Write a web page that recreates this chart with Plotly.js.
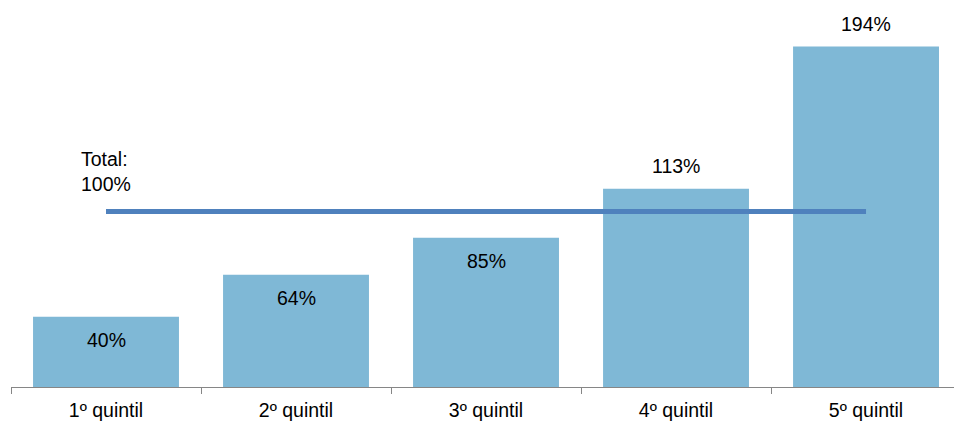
<!DOCTYPE html>
<html><head><meta charset="utf-8">
<script src="https://cdn.plot.ly/plotly-3.0.1.min.js"></script>
<style>html,body{margin:0;padding:0;background:#fff}#chart{width:954px;height:421px}</style>
</head><body><div id="chart"></div>
<script>
const categories = ["1º quintil", "2º quintil", "3º quintil", "4º quintil", "5º quintil"];
const values = [40, 64, 85, 113, 194];
const valueLabels = ["40%", "64%", "85%", "113%", "194%"];
const totalValue = 100;
const totalLabel = "Total:<br>100%";

const FONT = "Liberation Sans, Arial, sans-serif";

const bars = {
  type: "bar", x: categories, y: values, width: 0.768,
  marker: {color: "#7fb8d6"}, hoverinfo: "skip"
};
const totalLine = {
  type: "scatter", mode: "lines",
  x: [categories[0], categories[categories.length - 1]],
  y: [totalValue, totalValue],
  line: {color: "#4f81bd", width: 5}, hoverinfo: "skip"
};

const annotations = values.map((v, i) => ({
  x: categories[i], y: v, text: valueLabels[i], showarrow: false,
  yanchor: "middle", yshift: v > totalValue ? 23 : -23,
  font: {family: FONT, size: 19.5, color: "#000"}
}));
annotations.push({
  x: categories[0], y: totalValue, text: totalLabel, showarrow: false,
  xanchor: "left", yanchor: "middle", xshift: -27, yshift: 40, align: "left",
  font: {family: FONT, size: 19.5, color: "#000"}
});

const layout = {
  width: 954, height: 421,
  margin: {l: 11, r: 0, t: 0, b: 34},
  paper_bgcolor: "#fff", plot_bgcolor: "#fff",
  showlegend: false,
  font: {family: FONT, size: 19.5, color: "#000"},
  xaxis: {
    type: "category", range: [-0.5, 4.463],
    showline: true, linecolor: "#868686", linewidth: 1,
    ticks: "outside", tickson: "boundaries", ticklen: 6, tickcolor: "#868686",
    ticklabelstandoff: 6,
    showgrid: false, zeroline: false,
    tickfont: {family: FONT, size: 19.5, color: "#000"}
  },
  yaxis: {
    range: [0, 220.5], visible: false, showgrid: false, zeroline: false
  },
  annotations: annotations
};

Plotly.newPlot("chart", [bars, totalLine], layout, {displayModeBar: false, staticPlot: true});
</script>
</body></html>
